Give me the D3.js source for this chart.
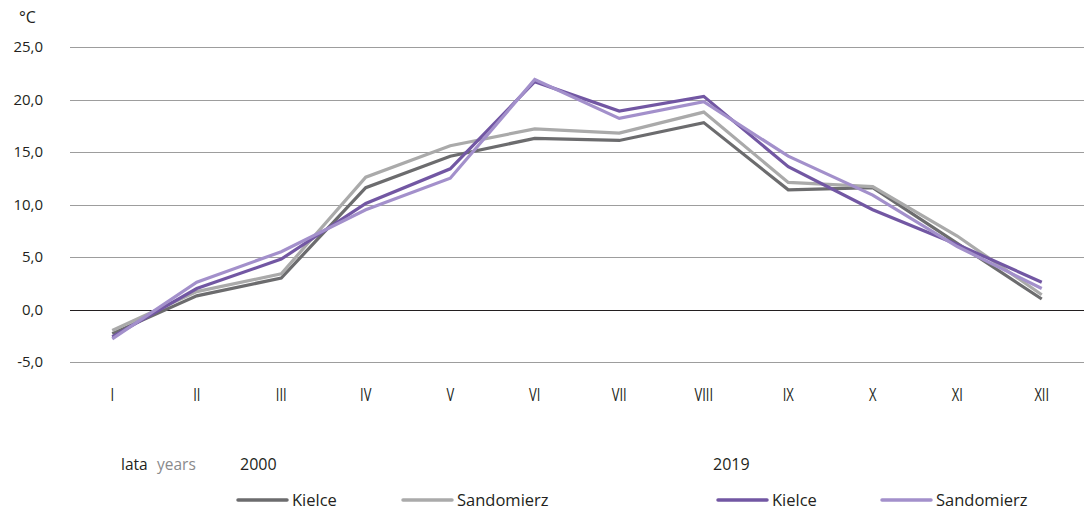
<!DOCTYPE html>
<html>
<head>
<meta charset="utf-8">
<script src="https://cdn.jsdelivr.net/npm/d3@7"></script>
<style>
  body { margin: 0; background: #fff; }
  svg text { font-family: "Open Sans", "Noto Sans", sans-serif; fill: #231f20; }
</style>
</head>
<body>
<svg id="chart" width="1084" height="513"></svg>
<script>
var months = ["I", "II", "III", "IV", "V", "VI", "VII", "VIII", "IX", "X", "XI", "XII"];
var yTicks = [-5, 0, 5, 10, 15, 20, 25];

// monthly mean temperature, °C
var kielce2000 = [-2.3, 1.3, 3.0, 11.6, 14.6, 16.3, 16.1, 17.8, 11.4, 11.6, 6.3, 1.0];
var sandomierz2000 = [-2.0, 1.7, 3.4, 12.6, 15.6, 17.2, 16.8, 18.8, 12.1, 11.7, 7.0, 1.4];
var kielce2019 = [-2.6, 2.0, 4.8, 10.1, 13.4, 21.7, 18.9, 20.3, 13.6, 9.5, 6.2, 2.6];
var sandomierz2019 = [-2.8, 2.6, 5.5, 9.5, 12.5, 21.9, 18.2, 19.8, 14.6, 10.9, 6.0, 2.0];

var series = [
  { name: "Kielce", year: "2000", values: kielce2000, color: "#6c6c6e" },
  { name: "Sandomierz", year: "2000", values: sandomierz2000, color: "#aaaaaa" },
  { name: "Kielce", year: "2019", values: kielce2019, color: "#7257a3" },
  { name: "Sandomierz", year: "2019", values: sandomierz2019, color: "#a390cb" }
];

var svg = d3.select("#chart");

var x = d3.scaleBand().domain(months).range([70, 1084]);
var y = d3.scaleLinear().domain([-5, 25]).range([362, 47]);

var fmt = d => d.toFixed(1).replace(".", ",");

// grid
svg.append("g").selectAll("line")
  .data(yTicks)
  .enter().append("line")
  .attr("x1", 70).attr("x2", 1084)
  .attr("y1", d => Math.round(y(d)) + 0.5).attr("y2", d => Math.round(y(d)) + 0.5)
  .attr("stroke", d => d == 0 ? "#231f20" : "#9d9d9d")
  .attr("stroke-width", 1.2);

// y labels
svg.append("g").selectAll("text")
  .data(yTicks)
  .enter().append("text")
  .attr("x", 43).attr("y", d => y(d) + 5)
  .attr("text-anchor", "end")
  .style("font-size", "15px")
  .text(fmt);

svg.append("text").attr("x", 19).attr("y", 23)
  .style("font-size", "16px").text("°C");

// x labels
var cx = d => x(d) + x.bandwidth() / 2;
svg.append("g").selectAll("text")
  .data(months)
  .enter().append("text")
  .attr("x", 0).attr("y", 0)
  .attr("text-anchor", "middle")
  .style("font-size", "18px")
  .attr("transform", d => "translate(" + cx(d) + ",401) scale(0.72,1)")
  .text(d => d);

// lines
var line = d3.line()
  .x((d, i) => cx(months[i]))
  .y(d => y(d));

svg.append("g").selectAll("path")
  .data(series)
  .enter().append("path")
  .attr("d", d => line(d.values))
  .attr("fill", "none")
  .attr("stroke", d => d.color)
  .attr("stroke-width", 3.2)
  .attr("stroke-linejoin", "miter");

// legend
svg.append("text").attr("x", 121).attr("y", 470).style("font-size", "15.5px").text("lata");
svg.append("text").attr("x", 157).attr("y", 470).style("font-size", "15.5px")
  .style("fill", "#8a8a8c").text("years");
svg.append("text").attr("x", 240).attr("y", 470).style("font-size", "16px").text("2000");
svg.append("text").attr("x", 713).attr("y", 470).style("font-size", "16px").text("2019");

var legendX = [238, 403, 718, 882];
var leg = svg.append("g").selectAll("g")
  .data(series)
  .enter().append("g")
  .attr("transform", (d, i) => "translate(" + legendX[i] + ",500)");
leg.append("line")
  .attr("x1", 0).attr("x2", 49)
  .attr("stroke", d => d.color)
  .attr("stroke-width", 3.5)
  .attr("stroke-linecap", "round");
leg.append("text")
  .attr("x", 54).attr("y", 6)
  .style("font-size", "16.5px")
  .text(d => d.name);
</script>
</body>
</html>
